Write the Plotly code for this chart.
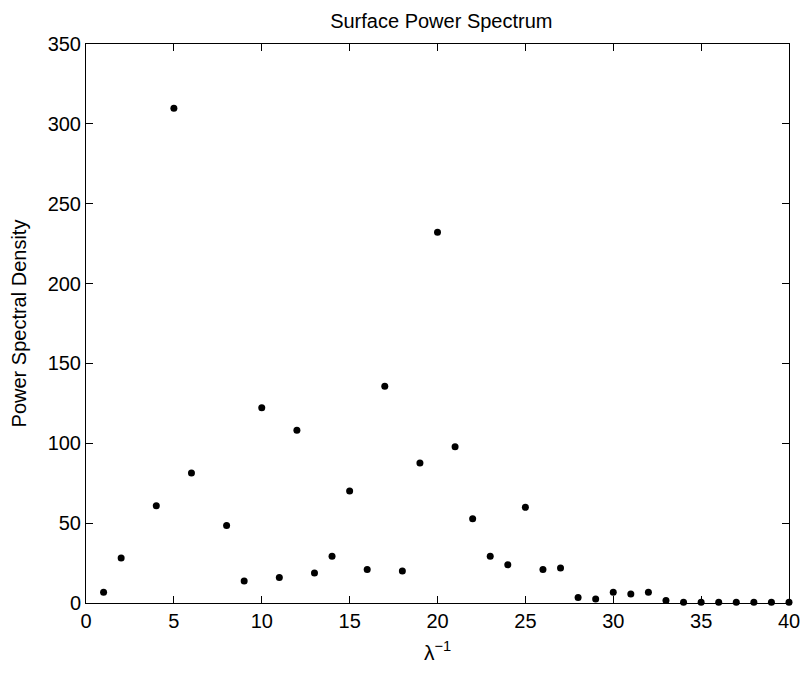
import plotly.graph_objects as go

# Data (x = inverse wavelength, y = power spectral density)
wavenumber = [1, 2, 4, 5, 6, 8, 9, 10, 11, 12, 13, 14, 15, 16, 17, 18, 19, 20,
              21, 22, 23, 24, 25, 26, 27, 28, 29, 30, 31, 32, 33, 34, 35, 36,
              37, 38, 39, 40]
psd = [6.7, 28.2, 60.9, 309.8, 81.4, 48.6, 13.8, 122.3, 15.9, 108.1, 18.8, 29.2,
       70.1, 20.9, 135.7, 20.0, 87.7, 232.1, 97.9, 52.8, 29.2, 24.0, 59.9, 20.9,
       21.9, 3.5, 2.5, 6.7, 5.6, 6.7, 1.5, 0.4, 0.4, 0.4, 0.4, 0.4, 0.4, 0.4]

x_ticks = [0, 5, 10, 15, 20, 25, 30, 35, 40]
y_ticks = [0, 50, 100, 150, 200, 250, 300, 350]

FONT = "Liberation Sans, Arial, Helvetica, sans-serif"

fig = go.Figure()
fig.add_trace(go.Scatter(
    x=wavenumber, y=psd, mode="markers",
    marker=dict(color="black", size=7, symbol="circle", line=dict(width=0)),
    showlegend=False, cliponaxis=False,
))

axis_common = dict(
    showline=True, linecolor="black", linewidth=1, mirror="ticks",
    ticks="inside", ticklen=7, tickwidth=1, tickcolor="black",
    showgrid=False, zeroline=False,
    tickfont=dict(family=FONT, size=20, color="black"),
)

fig.update_layout(
    width=812, height=673,
    margin=dict(l=86, r=15, t=44, b=70),
    paper_bgcolor="white", plot_bgcolor="white",
    title=dict(text="Surface Power Spectrum", x=0.5435, xanchor="center",
               y=1 - 21 / 673, yref="container", yanchor="middle",
               font=dict(family=FONT, size=20, color="black")),
    xaxis=dict(range=[0, 40], tickvals=x_ticks,
               title=dict(text="λ<sup>−1</sup>", standoff=14,
                          font=dict(family=FONT, size=21, color="black")),
               **axis_common),
    yaxis=dict(range=[0, 350], tickvals=y_ticks,
               title=dict(text="Power Spectral Density", standoff=15,
                          font=dict(family=FONT, size=20, color="black")),
               **axis_common),
)

fig.write_html("out.html")
